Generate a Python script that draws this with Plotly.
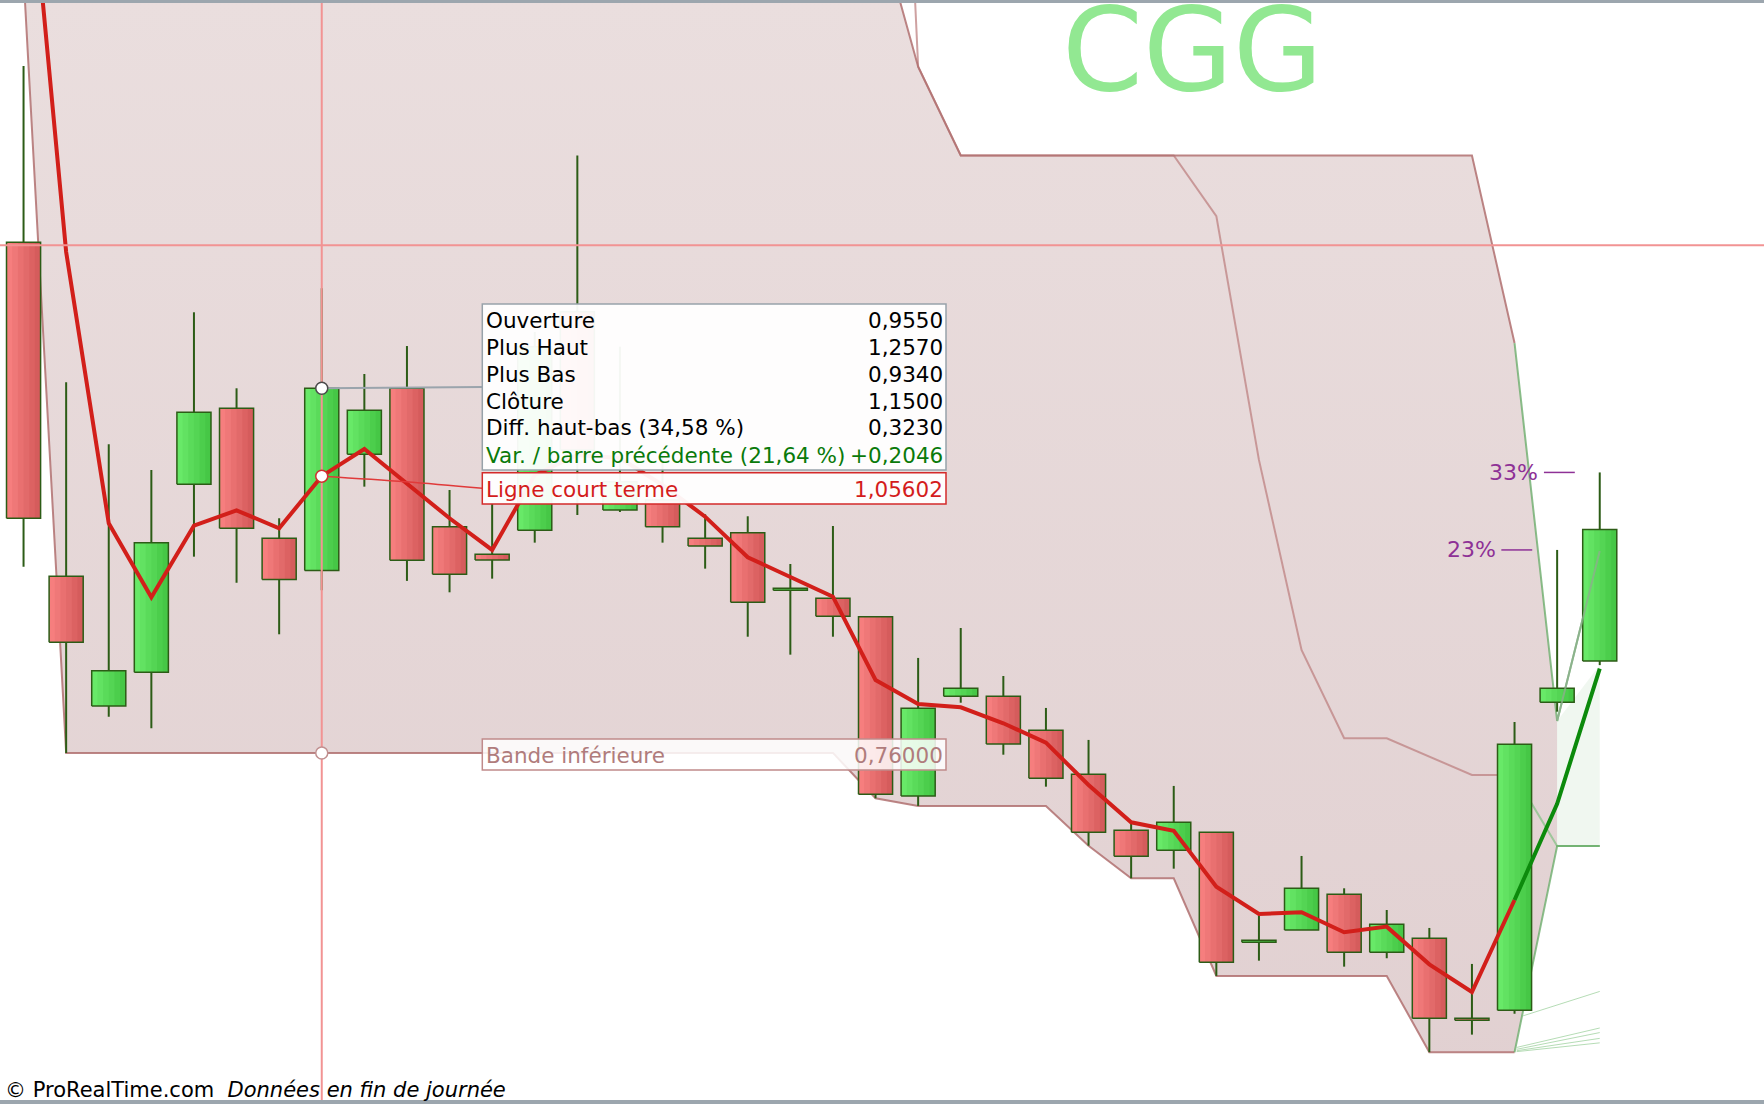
import plotly.graph_objects as go

# ---------------------------------------------------------------- data
candle_index = list(range(38))
opens = [1.3061, 0.9489, 0.8102, 0.8463, 1.0473, 1.1286, 0.9896, 0.9550, 1.0794, 1.1500,
         1.0020, 0.9725, 0.9981, 1.2319, 1.0198, 1.0305, 0.9896, 0.9956, 0.9340, 0.9254,
         0.9057, 0.7140, 0.8206, 0.8206, 0.7842, 0.7372, 0.6773, 0.6559, 0.6751, 0.5575,
         0.5706, 0.6088, 0.5468, 0.5618, 0.4762, 0.4848, 0.8142, 0.8584]
highs = [1.4947, 1.1564, 1.0901, 1.0626, 1.2313, 1.1500, 1.0110, 1.2570, 1.1653, 1.1952,
         1.0412, 1.0273, 1.2102, 1.3990, 1.1945, 1.0787, 1.0152, 1.0131, 0.9621, 1.0027,
         0.9057, 0.8616, 0.8936, 0.8423, 0.8081, 0.7739, 0.6848, 0.7247, 0.6751, 0.5859,
         0.6498, 0.6152, 0.5920, 0.5728, 0.5343, 0.7931, 0.9771, 1.0600]
lows = [0.9592, 0.7600, 0.7988, 0.7864, 0.9699, 0.9420, 0.8869, 0.9340, 1.0448, 0.9440,
        0.9318, 0.9464, 0.9849, 1.0145, 1.0177, 0.9849, 0.9571, 0.8843, 0.8651, 0.8843,
        0.7115, 0.7033, 0.8137, 0.7581, 0.7239, 0.6608, 0.6259, 0.6362, 0.5215, 0.5378,
        0.5706, 0.5314, 0.5404, 0.4399, 0.4587, 0.4810, 0.8041, 0.8539]
closes = [1.0110, 0.8783, 0.8480, 0.9849, 1.1243, 1.0003, 0.9454, 1.1500, 1.1265, 0.9660,
          0.9511, 0.9664, 1.1945, 1.0840, 1.0500, 1.0020, 0.9813, 0.9211, 0.9361, 0.9061,
          0.7158, 0.8078, 0.8291, 0.7696, 0.7329, 0.6751, 0.6495, 0.6858, 0.5361, 0.5596,
          0.6152, 0.5468, 0.5767, 0.4762, 0.4740, 0.7693, 0.8291, 0.9989]

# "Ligne court terme"
short_term = [1.7840, 1.2958, 1.0056, 0.9265, 1.0030, 1.0195, 1.0003, 1.05602, 1.0851, 1.0484,
              1.0110, 0.9771, 1.0573, 1.0787, 1.0755, 1.0466, 1.0127, 0.9693, 0.9485, 0.9271,
              0.8380, 0.8124, 0.8088, 0.7917, 0.7710, 0.7257, 0.6858, 0.6768, 0.6169, 0.5878,
              0.5896, 0.5682, 0.5742, 0.5339, 0.5043, 0.6027, 0.7056, 0.8501]
short_term_turn = 35  # line turns green from this bar

# bands
upper_band = [1.80] * 20 + [1.658, 1.494] + [1.399] * 13 + [1.1984, 0.7942, 0.9760]
lower_band = [1.5916] + [0.7600] * 19 + [0.7115, 0.7033, 0.7033, 0.7033, 0.7033, 0.6608,
                                         0.6259, 0.6259, 0.5215, 0.5215, 0.5215, 0.5215,
                                         0.5215, 0.4399, 0.4399, 0.4399, 0.6605, 0.6605]
inner_index = list(range(20, 38))
inner_band = [2.48, 1.494, 1.399, 1.399, 1.399, 1.399, 1.399, 1.399, 1.3342, 1.0734,
              0.8702, 0.7757, 0.7757, 0.7562, 0.7364, 0.7364, 0.6605, 0.6605]
band_turn = 35  # bands drawn green from this bar on
green_zone_index = [36, 37]
green_zone_top = [0.7942, 0.8540]

# projection fan at the bottom right
fan_start_index = [35.2, 35.05, 35.05, 35.05, 35.05]
fan_start_price = [0.4788, 0.4450, 0.4430, 0.4415, 0.4405]
fan_end_index = [37, 37, 37, 37, 37]
fan_end_price = [0.5049, 0.4658, 0.4609, 0.4547, 0.4499]

pct_labels = ["23%", "33%"]
pct_index = [36, 37]

hover_bar = 7
crosshair_price = 1.303

# ---------------------------------------------------------------- geometry
W, H = 1764, 1104
X_LO, X_HI = -0.5528, 40.856
Y_LO, Y_HI = 0.3845, 1.5653


def px_x(px):
    return X_LO + px / W * (X_HI - X_LO)


def px_y(py):
    return Y_HI - py / H * (Y_HI - Y_LO)


def fr(v, nd):
    return f"{v:.{nd}f}".replace(".", ",")


def mix(c0, c1, t):
    return "rgb(%d,%d,%d)" % tuple(round(a + (b - a) * t) for a, b in zip(c0, c1))


FONT = "DejaVu Sans"
WICK = "#2C5C16"
BROWN = "rgba(176,112,112,0.85)"
PINK_BOTTOM = "rgb(225,208,209)"
PINK_TOP = "rgb(234,222,222)"

fig = go.Figure()

# ---------------------------------------------------------------- band fill
n_fill = 37
fig.add_trace(go.Scatter(x=candle_index[:n_fill], y=lower_band[:n_fill], mode="lines",
                         line=dict(width=0), hoverinfo="skip"))
fig.add_trace(go.Scatter(x=candle_index[:n_fill], y=upper_band[:n_fill], mode="lines",
                         line=dict(width=0), fill="tonexty", fillcolor=PINK_TOP,
                         fillgradient=dict(type="vertical", start=Y_LO, stop=Y_HI,
                                           colorscale=[[0, PINK_BOTTOM], [1, PINK_TOP]]),
                         hoverinfo="skip"))
fig.add_trace(go.Scatter(x=green_zone_index, y=[lower_band[i] for i in green_zone_index],
                         mode="lines", line=dict(width=0), hoverinfo="skip"))
fig.add_trace(go.Scatter(x=green_zone_index, y=green_zone_top, mode="lines",
                         line=dict(width=0), fill="tonexty",
                         fillcolor="rgba(222,238,222,0.45)", hoverinfo="skip"))

# ---------------------------------------------------------------- band lines
k = inner_index.index(band_turn)
fig.add_trace(go.Scatter(x=inner_index[:k + 1], y=inner_band[:k + 1], mode="lines",
                         line=dict(color="rgba(190,130,130,0.75)", width=2), hoverinfo="skip"))
fig.add_trace(go.Scatter(x=inner_index[k:], y=inner_band[k:], mode="lines",
                         line=dict(color="rgba(140,195,140,0.8)", width=2), hoverinfo="skip"))
for band in (upper_band, lower_band):
    fig.add_trace(go.Scatter(x=candle_index[:band_turn + 1], y=band[:band_turn + 1],
                             mode="lines", line=dict(color=BROWN, width=2), hoverinfo="skip"))
    fig.add_trace(go.Scatter(x=candle_index[band_turn:], y=band[band_turn:],
                             mode="lines", line=dict(color="rgba(100,170,100,0.75)", width=2),
                             hoverinfo="skip"))

fx, fy = [], []
for a, b, c, d in zip(fan_start_index, fan_start_price, fan_end_index, fan_end_price):
    fx += [a, c, None]
    fy += [b, d, None]
fig.add_trace(go.Scatter(x=fx, y=fy, mode="lines",
                         line=dict(color="rgba(150,205,150,0.7)", width=1), hoverinfo="skip"))

# ---------------------------------------------------------------- candles
wx, wy = [], []
for i, lo, hi in zip(candle_index, lows, highs):
    wx += [i, i, None]
    wy += [lo, hi, None]
fig.add_trace(go.Scatter(x=wx, y=wy, mode="lines", line=dict(color=WICK, width=2),
                         hoverinfo="skip"))

HALF = 0.4
STRIPS = 6
palettes = {
    "up": ((108, 236, 108), (66, 196, 66)),
    "down": ((249, 130, 130), (210, 88, 88)),
}
for kind, (c_left, c_right) in palettes.items():
    bars = [i for i in candle_index if (closes[i] >= opens[i]) == (kind == "up")]
    step = 2 * HALF / STRIPS
    for s in range(STRIPS):
        l = -HALF + s * step
        r = min(l + step + 0.02, HALF)
        xs, ys = [], []
        for i in bars:
            b0, b1 = min(opens[i], closes[i]), max(opens[i], closes[i])
            if b1 - b0 < 0.0021:
                b1 = b0 + 0.0021
            xs += [i + l, i + r, i + r, i + l, i + l, None]
            ys += [b0, b0, b1, b1, b0, None]
        fig.add_trace(go.Scatter(x=xs, y=ys, mode="lines", fill="toself",
                                 fillcolor=mix(c_left, c_right, (s + 0.5) / STRIPS),
                                 line=dict(width=0), hoverinfo="skip"))

ox, oy = [], []
for i in candle_index:
    b0, b1 = min(opens[i], closes[i]), max(opens[i], closes[i])
    if b1 - b0 < 0.0021:
        b1 = b0 + 0.0021
    ox += [i - HALF, i + HALF, i + HALF, i - HALF, i - HALF, None]
    oy += [b0, b0, b1, b1, b0, None]
fig.add_trace(go.Scatter(x=ox, y=oy, mode="lines", line=dict(color=WICK, width=1.5),
                         hoverinfo="skip"))

# projection line over the last candles
fig.add_trace(go.Scatter(x=candle_index[band_turn + 1:], y=upper_band[band_turn + 1:],
                         mode="lines", line=dict(color="rgba(140,175,140,0.8)", width=2),
                         hoverinfo="skip"))

# ---------------------------------------------------------------- short-term line
fig.add_trace(go.Scatter(x=candle_index[:short_term_turn + 1],
                         y=short_term[:short_term_turn + 1], mode="lines",
                         line=dict(color="#D21F1A", width=4), hoverinfo="skip"))
fig.add_trace(go.Scatter(x=candle_index[short_term_turn:], y=short_term[short_term_turn:],
                         mode="lines", line=dict(color="#0C8A0C", width=4), hoverinfo="skip"))

# percent markers
for lab, i in zip(pct_labels, pct_index):
    fig.add_trace(go.Scatter(x=[i - 1.31, i - 0.585], y=[highs[i], highs[i]], mode="lines",
                             line=dict(color="#8E3196", width=1.5), hoverinfo="skip"))
    fig.add_annotation(x=i - 1.40, y=highs[i], text=lab, showarrow=False, xanchor="right",
                       yanchor="middle", font=dict(family=FONT, size=22, color="#8E3196"))

# ---------------------------------------------------------------- crosshair
CROSS = "#F29393"
fig.add_trace(go.Scatter(x=[hover_bar, hover_bar], y=[Y_LO, Y_HI], mode="lines",
                         line=dict(color=CROSS, width=2), hoverinfo="skip"))
fig.add_trace(go.Scatter(x=[X_LO, X_HI], y=[crosshair_price, crosshair_price], mode="lines",
                         line=dict(color=CROSS, width=2), hoverinfo="skip"))

box_l, box_r = px_x(482.3), px_x(946)
fig.add_trace(go.Scatter(x=[hover_bar, box_l], y=[closes[hover_bar], px_y(387)], mode="lines",
                         line=dict(color="#9AA4AC", width=2), hoverinfo="skip"))
fig.add_trace(go.Scatter(x=[hover_bar, px_x(405.7), box_l],
                         y=[short_term[hover_bar], px_y(481.7), px_y(488.3)],
                         mode="lines", line=dict(color="#E03A3A", width=1.5, shape="spline"),
                         hoverinfo="skip"))
fig.add_trace(go.Scatter(x=[hover_bar, hover_bar, hover_bar],
                         y=[closes[hover_bar], short_term[hover_bar], lower_band[hover_bar]],
                         mode="markers",
                         marker=dict(size=12, color="white",
                                     line=dict(color=["#4A4A4A", "#D03030", "#C09090"],
                                               width=1.5)),
                         hoverinfo="skip"))

# ---------------------------------------------------------------- tooltip
def box(top, bottom, line_color, alpha):
    fig.add_shape(type="rect", xref="x", yref="y", x0=box_l, x1=box_r,
                  y0=px_y(bottom), y1=px_y(top), layer="above",
                  line=dict(color=line_color, width=1.5),
                  fillcolor=f"rgba(255,255,255,{alpha})")


box(304, 470, "#98A2AA", 0.95)
box(472.7, 504, "#D42A2A", 0.95)
box(739, 770, "#C08A8A", 0.85)

o, h, lo, c = opens[hover_bar], highs[hover_bar], lows[hover_bar], closes[hover_bar]
prev_c = closes[hover_bar - 1]
rows = [
    ("Ouverture", fr(o, 4), "black"),
    ("Plus Haut", fr(h, 4), "black"),
    ("Plus Bas", fr(lo, 4), "black"),
    ("Clôture", fr(c, 4), "black"),
    (f"Diff. haut-bas ({fr((h - lo) / lo * 100, 2)} %)", fr(h - lo, 4), "black"),
    (f"Var. / barre précédente ({fr((c - prev_c) / prev_c * 100, 2)} %)",
     "+" + fr(c - prev_c, 4), "#0A7A0A"),
    ("Ligne court terme", fr(short_term[hover_bar], 5), "#D41C1C"),
    ("Bande inférieure", fr(lower_band[hover_bar], 5), "#B07C7C"),
]
row_y = [320.7, 347.3, 374.3, 401, 427.7, 455, 489.3, 755]
for (lab, val, col), py in zip(rows, row_y):
    fig.add_annotation(x=px_x(484), y=px_y(py), text=lab, showarrow=False, xanchor="left",
                       yanchor="middle", font=dict(family=FONT, size=21.5, color=col))
    fig.add_annotation(x=px_x(945), y=px_y(py), text=val, showarrow=False, xanchor="right",
                       yanchor="middle", font=dict(family=FONT, size=21.5, color=col))

# ---------------------------------------------------------------- texts and frame
fig.add_annotation(x=1192 / W, y=1 - 50 / H, xref="paper", yref="paper", text="CGG",
                   showarrow=False, xanchor="center", yanchor="middle",
                   font=dict(family=FONT, size=116, color="#92E892"))
fig.add_annotation(x=3 / W, y=1 - 1090 / H, xref="paper", yref="paper",
                   text="© ProRealTime.com  <i>Données en fin de journée</i>",
                   showarrow=False, xanchor="left", yanchor="middle",
                   font=dict(family=FONT, size=21, color="black"))
for y0, y1 in ((0, 3), (1100, 1104)):
    fig.add_shape(type="rect", xref="paper", yref="paper", x0=0, x1=1,
                  y0=1 - y1 / H, y1=1 - y0 / H, layer="above",
                  line=dict(width=0), fillcolor="#9CA6AE")

fig.update_layout(
    width=W, height=H,
    margin=dict(l=0, r=0, t=0, b=0),
    paper_bgcolor="white", plot_bgcolor="white",
    showlegend=False,
    xaxis=dict(range=[X_LO, X_HI], visible=False, fixedrange=True),
    yaxis=dict(range=[Y_LO, Y_HI], visible=False, fixedrange=True),
)

fig.write_html("out.html", config={"displayModeBar": False},
               post_script="document.body.style.margin='0';document.body.style.overflow='hidden';")
